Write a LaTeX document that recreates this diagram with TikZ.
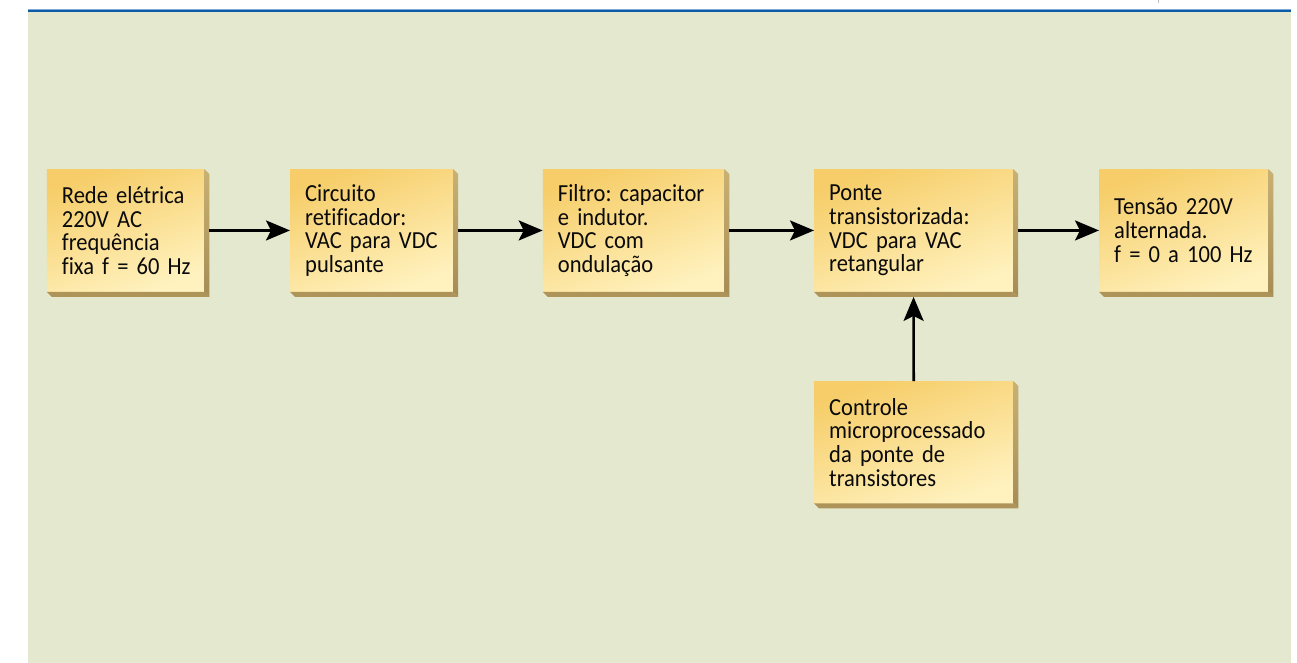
\documentclass[tikz,border=0pt]{standalone}
\usepackage{fontspec}
\setmainfont{Carlito}[FakeStretch=0.92, Ligatures=NoCommon, WordSpace=0.8]
\usetikzlibrary{calc,arrows.meta}
\definecolor{bgc}{HTML}{E3E8CF}
\definecolor{barblue}{HTML}{0B5BA6}
\definecolor{barlight}{HTML}{7FA9D6}
\definecolor{goldA}{HTML}{F6CD68}
\definecolor{goldB}{HTML}{FCE29C}
\definecolor{goldC}{HTML}{FFF2BF}
\definecolor{shadA}{HTML}{C9B174}
\definecolor{shadB}{HTML}{A58C55}
\definecolor{shadC}{HTML}{AE9459}
\definecolor{txt}{HTML}{0A0A0A}
\newcommand\boxshadow[1]{%
  \shade[top color=shadA, bottom color=shadB] (#1.north east) -- ($(#1.north east)+(5,5)$) -- ($(#1.south east)+(5,5)$) -- (#1.south east) -- cycle;
  \fill[shadC] (#1.south west) -- (#1.south east) -- ($(#1.south east)+(5,5)$) -- ($(#1.south west)+(5,5)$) -- cycle;}
\newcommand\oneline[1]{\mbox{#1}}
\begin{document}
\begin{tikzpicture}[x=1pt,y=-1pt,
  blk/.style={draw=none, anchor=north west, minimum height=122.5pt,
    inner xsep=15pt, inner ysep=0pt, align=left,
    font=\fontsize{24.5}{23.7}\selectfont\frenchspacing, text=txt,
    top color=goldA, middle color=goldB, bottom color=goldC, shading angle=20},
  arr/.style={line width=2.6pt, -{Stealth[length=24pt,width=20pt,inset=5pt]}}]
\useasboundingbox (0,0) rectangle (1297,663);
\fill[white] (0,0) rectangle (1297,663);
\fill[bgc] (27.5,12) rectangle (1290.7,663);
\fill[barblue] (27.5,9.3) rectangle (1290.7,12.2);
\fill[barlight] (27.5,8.7) rectangle (1290.7,9.5);
\draw[gray!50, line width=0.7pt] (1158,0) -- (1158,3);

\node[blk, text width=127.3pt] (b1) at (46.7,169) {\oneline{Rede elétrica}\\\oneline{220V AC}\\\oneline{frequência}\\\oneline{fixa f = 60 Hz}};
\node[blk, text width=132.7pt] (b2) at (290,169) {\oneline{Circuito}\\\oneline{retificador:}\\\oneline{VAC para VDC}\\\oneline{pulsante}};
\node[blk, text width=151.3pt] (b3) at (542.7,169) {\oneline{Filtro: capacitor}\\\oneline{e indutor.}\\\oneline{VDC com}\\\oneline{ondulação}};
\node[blk, text width=168.7pt] (b4) at (814,169) {\oneline{Ponte}\\\oneline{transistorizada:}\\\oneline{VDC para VAC}\\\oneline{retangular}};
\node[blk, text width=139pt] (b5) at (1099,169) {\oneline{Tensão 220V}\\\oneline{alternada.}\\\oneline{f = 0 a 100 Hz}};
\node[blk, text width=169pt, minimum height=122pt] (b6) at (814,381) {\oneline{Controle}\\\oneline{microprocessado}\\\oneline{da ponte de}\\\oneline{transistores}};

\boxshadow{b1}
\boxshadow{b2}
\boxshadow{b3}
\boxshadow{b4}
\boxshadow{b5}
\boxshadow{b6}

\draw[arr] ([xshift=5pt]b1.east) -- (b2.west);
\draw[arr] ([xshift=5pt]b2.east) -- (b3.west);
\draw[arr] ([xshift=5pt]b3.east) -- (b4.west);
\draw[arr] ([xshift=5pt]b4.east) -- (b5.west);
\draw[arr] (b6.north) -- ([yshift=-5pt]b4.south);
\end{tikzpicture}
\end{document}
